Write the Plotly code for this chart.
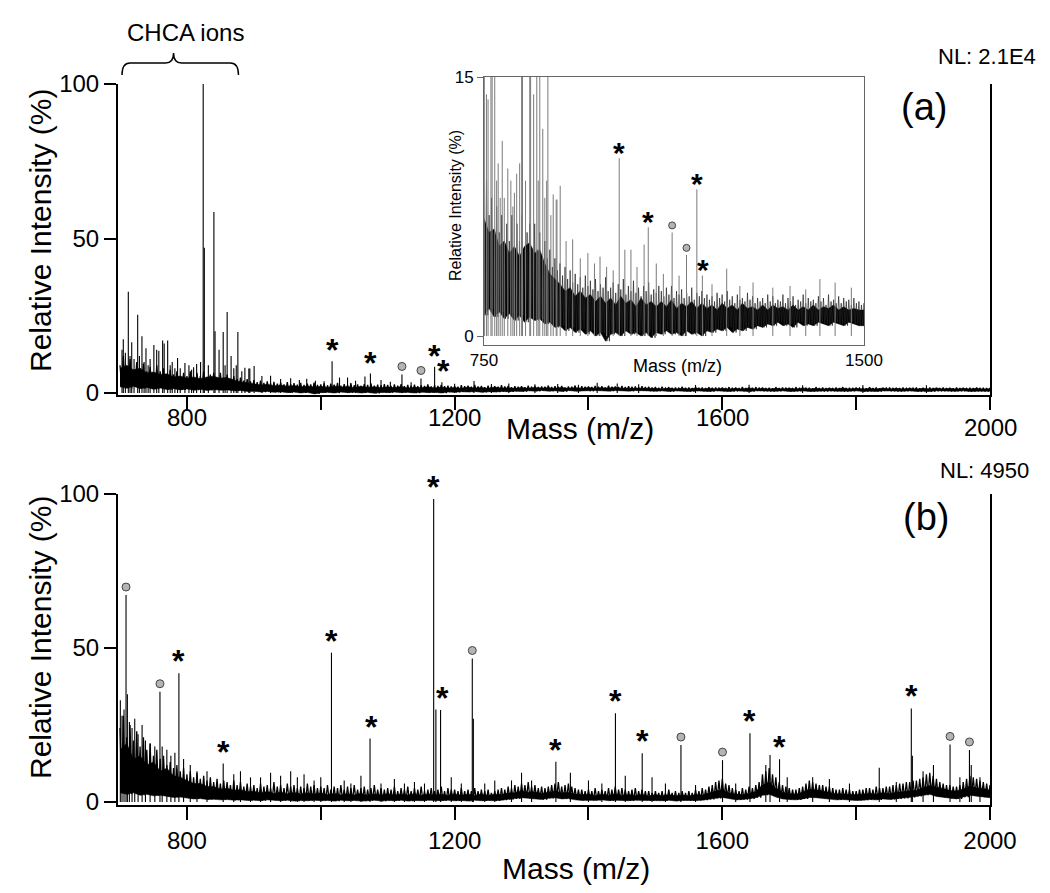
import plotly.graph_objects as go

# ---------------- data ----------------
grid10 = list(range(700, 2001, 10))   # lower edge / dense-core grid
grid5 = list(range(700, 2001, 5))     # noise spike-top grid

# panel (a): noise spike tops on a 5 m/z grid
a_hi = [9, 12, 8, 11, 7.5, 10, 8, 9.5, 7, 8.5, 6.5, 9, 7, 8, 6, 7.5, 6, 7, 5.5, 6.5,
        5.5, 7, 5, 6.5, 5.5, 7, 5, 6, 6.5, 5, 6.5, 5, 6, 4.5, 5.5, 4.5, 5, 4, 4.5, 3.8,
        4.2, 3.5, 4.0, 3.3, 3.8, 3.1, 3.6, 3.0, 3.4, 2.8, 3.5, 2.9, 3.2, 2.7, 3.3, 2.6, 3.0, 2.8, 3.4, 2.6,
        2.8, 3.1, 2.5, 3.0, 2.7, 3.3, 2.4, 2.9, 2.6, 3.2, 2.5, 2.8, 2.3, 2.9, 2.6, 3.1, 2.4, 2.7, 2.5, 2.9,
        2.6, 2.3, 2.8, 2.4, 2.9, 2.2, 2.6, 2.4, 2.7, 2.2, 2.5, 2.3, 2.8, 2.1, 2.5, 2.3, 2.6, 2.2, 2.4, 2.1,
        2.3, 2.0, 2.5, 2.2, 2.4, 2.0, 2.6, 2.1, 2.3, 1.9, 2.4, 2.1, 2.2, 2.0, 2.5, 2.1, 2.3, 1.9, 2.2, 2.0,
        2.2, 1.9, 2.4, 2.0, 2.3, 1.9, 2.1, 2.0, 2.4, 1.9, 2.2, 2.0, 2.3, 1.8, 2.1, 2.0, 2.4, 1.9, 2.2, 2.0,
        2.1, 1.9, 2.3, 2.0, 2.2, 1.8, 2.4, 2.0, 2.1, 1.9, 2.3, 1.9, 2.2, 2.0, 2.1, 1.8, 2.2, 1.9, 2.0, 1.8,
        1.9, 1.7, 2.0, 1.6, 1.9, 1.7, 1.8, 1.6, 2.0, 1.7, 1.8, 1.6, 1.9, 1.7, 1.8, 1.6, 1.9, 1.7, 1.8, 1.6,
        1.8, 1.6, 1.9, 1.7, 1.8, 1.5, 1.9, 1.6, 1.8, 1.7, 1.9, 1.6, 1.8, 1.6, 1.7, 1.5, 1.9, 1.6, 1.8, 1.6,
        1.7, 1.6, 1.9, 1.5, 1.8, 1.6, 1.7, 1.5, 1.9, 1.6, 1.8, 1.6, 1.7, 1.5, 1.8, 1.6, 1.9, 1.6, 1.7, 1.5,
        1.8, 1.6, 1.7, 1.5, 1.9, 1.6, 1.8, 1.5, 1.7, 1.6, 1.8, 1.5, 1.7, 1.6, 1.8, 1.5, 1.7, 1.6, 1.8, 1.5,
        1.7, 1.5, 1.8, 1.6, 1.7, 1.5, 1.8, 1.6, 1.7, 1.5, 1.8, 1.6, 1.7, 1.5, 1.7, 1.6, 1.8, 1.5, 1.7, 1.6,
        1.6]
# panel (a): top of the solid noise core, 10 m/z grid
a_core = [8, 9, 7.5, 8, 6.5, 6.8, 6, 6.2, 5.2, 5.5,
          4.8, 5.2, 4.6, 5.2, 5.4, 4.8, 5, 4.2, 3.6, 3.3,
          3.0, 2.6, 2.8, 2.3, 2.6, 2.2, 2.4, 2.0, 2.3, 1.9,
          2.2, 1.8, 2.3, 1.9, 2.1, 1.7, 2.2, 1.8, 2.0, 1.7,
          2.0, 1.7, 2.1, 1.6, 1.9, 1.7, 2.0, 1.6, 1.9, 1.6,
          1.8, 1.5, 1.9, 1.6, 1.8, 1.5, 1.9, 1.6, 1.7, 1.5,
          1.8, 1.5, 1.8, 1.6, 1.7, 1.5, 1.8, 1.5, 1.7, 1.5,
          1.8, 1.5, 1.7, 1.6, 1.8, 1.5, 1.7, 1.5, 1.6, 1.5,
          1.5, 1.3, 1.6, 1.3, 1.5, 1.3, 1.6, 1.3, 1.5, 1.3,
          1.5, 1.3, 1.5, 1.3, 1.6, 1.3, 1.5, 1.3, 1.5, 1.3,
          1.5, 1.3, 1.6, 1.3, 1.5, 1.3, 1.5, 1.3, 1.6, 1.3,
          1.5, 1.3, 1.5, 1.3, 1.6, 1.3, 1.5, 1.3, 1.5, 1.3,
          1.5, 1.3, 1.6, 1.3, 1.5, 1.3, 1.5, 1.3, 1.5, 1.3,
          1.4]
# panel (a): lower noise edge, 10 m/z grid
a_lo = [2.0, 1.5, 2.2, 1.4, 1.8, 1.2, 1.6, 1.1, 1.4, 1.0,
        1.3, 0.9, 1.2, 0.8, 1.1, 0.9, 1.0, 0.7, 0.8, 0.5,
        0.6, 0.3, 0.5, 0.2, 0.4, 0.1, 0.3, 0.0, 0.2, -0.3,
        0.1, 0.2, 0.0, 0.3, 0.1, 0.2, 0.0, 0.2, -0.1, 0.2,
        0.1, 0.3, 0.1, 0.2, 0.0, 0.3, 0.1, 0.2, 0.0, 0.3,
        0.2, 0.4, 0.3, 0.5, 0.2, 0.4, 0.3, 0.5, 0.4, 0.6,
        0.5, 0.7, 0.6, 0.8, 0.6, 0.7, 0.5, 0.8, 0.6, 0.7,
        0.6, 0.8, 0.7, 0.6, 0.8, 0.7, 0.6, 0.8, 0.7, 0.6,
        0.6, 0.7, 0.5, 0.7, 0.6, 0.5, 0.7, 0.6, 0.5, 0.7,
        0.6, 0.5, 0.7, 0.6, 0.5, 0.7, 0.6, 0.5, 0.6, 0.7,
        0.5, 0.6, 0.7, 0.5, 0.6, 0.5, 0.7, 0.6, 0.5, 0.6,
        0.7, 0.5, 0.6, 0.5, 0.7, 0.6, 0.5, 0.6, 0.7, 0.5,
        0.6, 0.5, 0.7, 0.6, 0.5, 0.6, 0.7, 0.5, 0.6, 0.5,
        0.6]
# panel (a): individual peaks (m/z, %)
a_peaks = [(703, 14), (704.9, 17.4), (708, 13), (712.4, 32.8), (715, 12), (717.5, 16.4),
           (721, 11), (726.4, 25.3), (729, 12), (732.8, 18.4), (736, 10), (738.8, 14.5),
           (742, 9), (745, 11), (750.6, 15.5), (754.8, 14), (758, 13.7), (763.7, 17),
           (766, 16), (771.2, 17), (775, 9), (778, 10), (782, 8), (786, 11.3), (790, 8),
           (797, 9.7), (803, 9), (807, 7.5), (810, 8.3), (814.5, 9.4), (820.4, 10),
           (824.3, 100), (826, 47), (832, 9), (840.3, 58.6), (842, 20), (848, 14),
           (854.2, 19.7), (857, 9), (860.1, 26.2), (866, 12), (870, 8), (873.7, 9),
           (876.1, 19.7), (882, 7), (886.6, 8.2), (892.5, 7.9), (894, 7.9), (900.4, 8.7),
           (912, 5.5), (925, 5.6), (940, 4.5), (955, 4.8), (968, 4.2), (979, 4.6),
           (992, 4.0), (1005, 3.8), (1016.9, 10.3), (1028, 5.0), (1040, 5.0), (1052, 4.0),
           (1066, 5.3), (1074.2, 6.3), (1090, 4.2), (1104, 3.6), (1121.3, 6.0), (1135, 3.5),
           (1149.7, 4.7), (1170.1, 8.5), (1181, 3.5), (1200, 3.0), (1229, 3.9), (1255, 2.9),
           (1281, 3.1), (1320, 2.8), (1354, 2.9), (1385, 2.7), (1413, 3.3), (1443, 3.1),
           (1475, 2.8), (1560, 2.6), (1640, 2.7), (1720, 2.5), (1810, 2.6), (1905, 2.5)]
a_stars = [(1016.9, 10.3), (1074.2, 6.3), (1170.1, 8.5), (1183, 3.5)]
a_circles = [(1121.3, 6.0), (1149.7, 4.7)]

# panel (b): noise spike tops on a 5 m/z grid
b_hi = [24, 28, 21, 25, 20, 23, 18, 21, 17, 19, 15, 17, 14, 15, 12, 13, 11, 12, 10, 11,
        9, 10, 8, 9.5, 7.5, 8.5, 7, 8, 6.5, 7.5, 6, 7, 6.5, 5.5, 7, 5.5, 6.5, 5, 6, 5,
        5.5, 4.5, 6, 5, 5.5, 4.5, 6.5, 5, 5.5, 4.5, 6, 5, 5.5, 4.5, 5, 4.5, 6, 5, 5.5, 4.5,
        5, 4.5, 5.5, 4, 5, 4.5, 5.5, 4, 5, 4.5, 5.5, 4, 4.5, 5, 4, 4.5, 5.5, 4, 4.5, 4,
        4.5, 4, 5, 3.5, 4.5, 4, 5, 3.5, 4.5, 4, 5, 3.5, 4, 4.5, 3.5, 4, 5, 3.5, 4.5, 4,
        4, 3.5, 4.5, 3.5, 4, 3.5, 4.5, 3.5, 4, 3.5, 4, 3, 3.5, 4, 4.5, 4, 5, 4.5, 5.5, 5,
        6, 5.5, 6.5, 5, 5.5, 4.5, 5, 4.5, 5, 5.5, 6, 6.5, 5, 5.5, 6, 5, 4.5, 4, 4, 3.5,
        4, 3.5, 4.5, 3.5, 4, 3.5, 4.5, 4, 5, 4, 4.5, 4, 3.5, 4, 4.5, 3.5, 4, 3.5, 3.5, 3,
        3.5, 3, 3.5, 3, 4, 3, 3.5, 3, 3.5, 3, 3.5, 3, 4, 3.5, 4.5, 4, 5, 5.5, 6.5, 7,
        7.5, 6, 5.5, 4.5, 4, 3.5, 4.5, 4, 5, 4.5, 5.5, 6.5, 9, 10, 11, 9, 8, 6.5, 5.5, 5,
        4.5, 4, 4, 4.5, 5, 6, 7, 6.5, 6, 5.5, 5.5, 5, 5, 4.5, 4, 4, 4.5, 4, 4, 3.5,
        3.5, 4, 4, 4.5, 4.5, 4, 5, 4.5, 4.5, 5, 5, 5.5, 5.5, 6, 6, 6.5, 6.5, 7, 7, 7.5,
        8, 9, 9.5, 8.5, 7.5, 6.5, 6, 5.5, 5.5, 5, 5, 5.5, 6.5, 7.5, 8.5, 8, 7.5, 7, 6.5, 6,
        5.5]
# panel (b): top of the solid noise core, 10 m/z grid
b_core = [17, 19, 14, 15, 12, 13, 10, 11, 8.5, 8,
          7, 6, 6, 5, 5, 4.2, 4.5, 3.8, 4, 3.4,
          3.5, 2.9, 3.4, 2.8, 3.2, 2.7, 3.1, 2.6, 3.0, 2.6,
          2.9, 2.4, 2.8, 2.3, 2.7, 2.3, 2.8, 2.2, 2.6, 2.3,
          2.7, 2.2, 2.6, 2.3, 2.7, 2.2, 2.6, 2.3, 2.5, 2.2,
          2.6, 2.2, 2.5, 2.1, 2.6, 2.2, 2.5, 2.4, 2.9, 3.0,
          3.6, 3.2, 3.3, 2.8, 3.2, 3.6, 3.0, 3.2, 2.6, 2.4,
          2.5, 2.1, 2.5, 2.2, 2.6, 2.2, 2.4, 2.1, 2.4, 2.0,
          2.4, 2.0, 2.4, 2.0, 2.3, 2.0, 2.4, 2.3, 2.9, 3.6,
          4.0, 3.0, 2.6, 2.4, 2.8, 3.4, 5.5, 6.5, 4.5, 3.2,
          2.8, 2.5, 3.2, 4.2, 4.0, 3.6, 3.2, 2.6, 2.7, 2.4,
          2.4, 2.5, 2.8, 2.6, 3.0, 2.8, 3.2, 3.3, 3.7, 3.8,
          4.6, 5.4, 4.8, 4.4, 3.7, 3.6, 4.2, 5.2, 4.6, 4.4,
          3.8]
b_lo = [3, 2.5, 3, 2.2, 2.5, 2, 2.2, 1.8, 1.5, 1.6,
        1.2, 1, 1.1, 0.8, 0.9, 0.7, 0.8, 0.6, 0.7, 0.5,
        0.6, 0.4, 0.7, 0.5, 0.4, 0.6, 0.3, 0.5, 0.4, 0.6,
        0.4, 0.5, 0.3, 0.6, 0.4, 0.5, 0.3, 0.4, 0.6, 0.3,
        0.5, 0.4, 0.6, 0.3, 0.5, 0.4, 0.6, 0.5, 0.4, 0.6,
        0.4, 0.5, 0.3, 0.6, 0.4, 0.5, 0.4, 0.6, 0.8, 1.0,
        1.4, 1.2, 1.0, 0.8, 1.2, 1.4, 1.0, 1.1, 0.7, 0.5,
        0.6, 0.5, 0.7, 0.4, 0.6, 0.5, 0.4, 0.6, 0.5, 0.4,
        0.5, 0.4, 0.6, 0.3, 0.5, 0.4, 0.5, 0.6, 0.8, 1.2,
        1.5, 1.0, 0.7, 0.8, 1.0, 1.4, 2.2, 2.5, 1.6, 1.0,
        0.8, 0.7, 1.0, 1.5, 1.4, 1.2, 1.0, 0.7, 0.8, 0.6,
        0.5, 0.6, 0.8, 0.7, 1.0, 0.8, 1.0, 1.2, 1.5, 1.8,
        2.2, 2.5, 1.8, 1.5, 1.2, 1.0, 1.6, 2.2, 1.9, 1.6,
        1.4]
b_peaks = [(700.5, 33), (703, 28), (706, 30), (709, 67.2), (711, 35), (714, 26), (718, 24),
           (722, 27), (727, 22), (733, 25), (738, 20), (745, 19), (752, 18), (759.7, 35.8),
           (763, 18), (770, 17), (776, 15), (782, 16), (788, 41.8), (795, 14), (805, 12),
           (815, 10), (830, 10), (854.2, 12.5), (870, 9), (880, 10), (895, 8), (910, 8),
           (925, 9.5), (940, 8.5), (955, 10), (965, 8), (975, 9), (990, 7), (1000, 8),
           (1016, 48.5), (1035, 7), (1045, 6), (1060, 8.5), (1073.6, 20.6), (1090, 6),
           (1110, 7.5), (1125, 6), (1140, 6.5), (1155, 6), (1168.7, 98.4), (1172, 30),
           (1179, 29.9), (1195, 8), (1210, 6), (1226.4, 46.6), (1228, 27), (1245, 6),
           (1260, 7), (1285, 7), (1300, 9.5), (1315, 7), (1351.3, 13.1), (1373, 9.5),
           (1400, 7), (1420, 6), (1440.3, 28.8), (1455, 8.5), (1480.3, 15.8), (1495, 8),
           (1515, 6), (1538.2, 18.5), (1560, 5.5), (1600.3, 13.6), (1620, 6), (1641.3, 22.3),
           (1665, 12), (1671.3, 15.3), (1685.5, 13.9), (1697, 8), (1735, 8), (1760, 7.5),
           (1790, 6), (1834.5, 11.1), (1860, 6.5), (1882.4, 30.4), (1884, 15), (1900, 10),
           (1915.5, 12), (1940.3, 18.7), (1955, 8), (1969.3, 16.9), (1972, 12), (1985, 8)]
b_stars = [(788, 41.8), (854.2, 12.5), (1016, 48.5), (1075.5, 20.6), (1168.7, 98.4),
           (1182, 29.9), (1351.3, 13.1), (1440.3, 28.8), (1480.3, 15.8), (1641.3, 22.3),
           (1685.5, 13.9), (1882.4, 30.4)]
b_circles = [(709, 67.2), (759.7, 35.8), (1226.4, 46.6), (1538.2, 18.5), (1600.3, 13.6),
             (1940.3, 18.7), (1969.3, 16.9)]

x_tickvals = [800, 1000, 1200, 1400, 1600, 1800, 2000]
x_ticktext = ["800", "", "1200", "", "1600", "", "2000"]
y_tickvals = [0, 50, 100]
inset_xticks = [750, 1500]
inset_yticks = [0, 15]

# ---------------- helpers ----------------
OFF = 8                      # page body margin of the browser
W, H = 1050 - OFF, 893 - OFF
FONT = "Arial, Liberation Sans, sans-serif"


def px(x):
    return (x - OFF) / W


def py(y):
    return 1 - (y - OFF) / H


def zigzag(g5, hi, lo):
    xs, ys = [], []
    for j, (m, h) in enumerate(zip(g5, hi)):
        xs += [m, m + 2.5]
        ys += [h, lo[min(j // 2, len(lo) - 1)]]
    return xs, ys


def sticks(peaks):
    xs, ys = [], []
    for m, v in peaks:
        xs += [m, m, None]
        ys += [0, v, None]
    return xs, ys


fig = go.Figure()

for (hi, core, lo, peaks, xa, ya, lw, sc, sw, zc) in [
    (a_hi, a_core, a_lo, a_peaks, "x", "y", 1.3, "black", 1.1, "black"),
    (b_hi, b_core, b_lo, b_peaks, "x2", "y2", 1.3, "black", 1.1, "black"),
    (a_hi, a_core, a_lo, a_peaks, "x3", "y3", 0.7, "#7a7a7a", 1.0, "#222"),
]:
    # solid noise core between lower edge and core top
    fig.add_trace(go.Scatter(x=grid10 + grid10[::-1], y=lo + core[::-1], mode="lines",
                             fill="toself", fillcolor="black", line=dict(color="black", width=0.5),
                             xaxis=xa, yaxis=ya, hoverinfo="skip", showlegend=False))
    zx, zy = zigzag(grid5, hi, lo)
    fig.add_trace(go.Scatter(x=zx, y=zy, mode="lines", xaxis=xa, yaxis=ya,
                             line=dict(color=zc, width=lw), hoverinfo="skip",
                             showlegend=False))
    sx, sy = sticks(peaks)
    fig.add_trace(go.Scatter(x=sx, y=sy, mode="lines", xaxis=xa, yaxis=ya,
                             line=dict(color=sc, width=sw),
                             hoverinfo="skip", showlegend=False))

# circles (offset ~8 px above peak top)
for circles, xa, ya, ppu, size, off in [(a_circles, "x", "y", 3.09, 8, 8),
                                        (b_circles, "x2", "y2", 3.08, 8, 8),
                                        (a_circles, "x3", "y3", 17.27, 7, 7)]:
    fig.add_trace(go.Scatter(x=[c[0] for c in circles], y=[c[1] + off / ppu for c in circles],
                             mode="markers", xaxis=xa, yaxis=ya, cliponaxis=False,
                             marker=dict(symbol="circle", size=size, color="#b4b4b4",
                                         line=dict(color="#444", width=1)),
                             hoverinfo="skip", showlegend=False))

annotations = []
for stars, xa, ya, fs, ys in [(a_stars, "x", "y", 32, 11), (b_stars, "x2", "y2", 32, 12),
                              (a_stars, "x3", "y3", 30, 6)]:
    for m, v in stars:
        annotations.append(dict(x=m, y=v, xref=xa, yref=ya, text="<b>*</b>", showarrow=False,
                                font=dict(family=FONT, size=fs, color="black"),
                                yanchor="middle", yshift=ys))

# panel (a) x tick labels (sit closer to the axis than in panel b)
for v, t in zip(x_tickvals, x_ticktext):
    if t:
        annotations.append(dict(x=v, y=py(427 if v == 2000 else 417), xref="x", yref="paper",
                                text=t, showarrow=False, xanchor="center", yanchor="middle",
                                font=dict(family=FONT, size=24, color="black")))

# texts
texts = [
    dict(x=px(185), y=py(32), text="CHCA ions", font=dict(size=24)),
    dict(x=px(987), y=py(56), text="NL: 2.1E4", font=dict(size=22)),
    dict(x=px(984), y=py(470), text="NL: 4950", font=dict(size=22)),
    dict(x=px(924), y=py(107), text="(a)", font=dict(size=38)),
    dict(x=px(926), y=py(517), text="(b)", font=dict(size=38)),
    dict(x=px(40), y=py(231), text="Relative Intensity (%)", textangle=-90, font=dict(size=30)),
    dict(x=px(40), y=py(638), text="Relative Intensity (%)", textangle=-90, font=dict(size=30)),
    dict(x=px(580), y=py(428), text="Mass (m/z)", font=dict(size=30)),
    dict(x=px(576), y=py(868), text="Mass (m/z)", font=dict(size=30)),
    dict(x=px(677), y=py(366), text="Mass (m/z)", font=dict(size=18)),
    dict(x=px(455), y=py(206), text="Relative Intensity (%)", textangle=-90, font=dict(size=16)),
]
for a in texts:
    a.update(xref="paper", yref="paper", showarrow=False, xanchor="center", yanchor="middle")
    a["font"] = dict(family=FONT, color="black", size=a["font"]["size"])
annotations += texts

# curly brace over CHCA region (x in data, y in paper)
y1, y2, y3 = py(75), py(63), py(53)
brace = (f"M 703 {y1} Q 703 {y2} 715 {y2} L 768 {y2} Q 780 {y2} 780 {y3} "
         f"Q 780 {y2} 792 {y2} L 865 {y2} Q 877 {y2} 877 {y1}")
shapes = [dict(type="path", path=brace, xref="x", yref="paper",
               line=dict(color="black", width=1.5))]

main_x = dict(range=[697, 2000], showline=True, linewidth=2, linecolor="black",
              ticks="outside", ticklen=13, tickwidth=2, tickcolor="black",
              tickmode="array", tickvals=x_tickvals,
              tickfont=dict(family=FONT, size=24, color="black"),
              showgrid=False, zeroline=False, automargin=False,
              domain=[px(118), px(990)])
main_y = dict(showline=True, linewidth=2, linecolor="black", mirror=True,
              ticks="outside", ticklen=12, tickwidth=2, tickcolor="black",
              tickmode="array", tickvals=y_tickvals,
              tickfont=dict(family=FONT, size=24, color="black"),
              showgrid=False, zeroline=False, automargin=False)

fig.update_layout(
    template="none",
    width=W, height=H, margin=dict(l=0, r=0, t=0, b=0, pad=0), autosize=False,
    paper_bgcolor="white", plot_bgcolor="rgba(0,0,0,0)",
    xaxis=dict(main_x, anchor="y", ticktext=[""] * len(x_tickvals)),
    yaxis=dict(main_y, anchor="x", range=[-0.65, 100], domain=[py(395), py(84)]),
    xaxis2=dict(main_x, anchor="y2", ticktext=x_ticktext),
    yaxis2=dict(main_y, anchor="x2", range=[-0.97, 100], domain=[py(805), py(494)]),
    xaxis3=dict(anchor="y3", range=[750, 1500], domain=[px(484), px(864)],
                showline=True, linewidth=1, linecolor="#666", mirror=True,
                ticks="", tickmode="array", tickvals=inset_xticks,
                tickfont=dict(family=FONT, size=17, color="black"),
                showgrid=False, zeroline=False, automargin=False),
    yaxis3=dict(anchor="x3", range=[-0.52, 15], domain=[py(345), py(77)],
                showline=True, linewidth=1, linecolor="#666", mirror=True,
                ticks="outside", ticklen=6, tickwidth=1, tickcolor="#666",
                tickmode="array", tickvals=inset_yticks,
                tickfont=dict(family=FONT, size=17, color="black"),
                showgrid=False, zeroline=False, automargin=False),
    annotations=annotations,
    shapes=shapes,
)

fig.write_html("out.html")
